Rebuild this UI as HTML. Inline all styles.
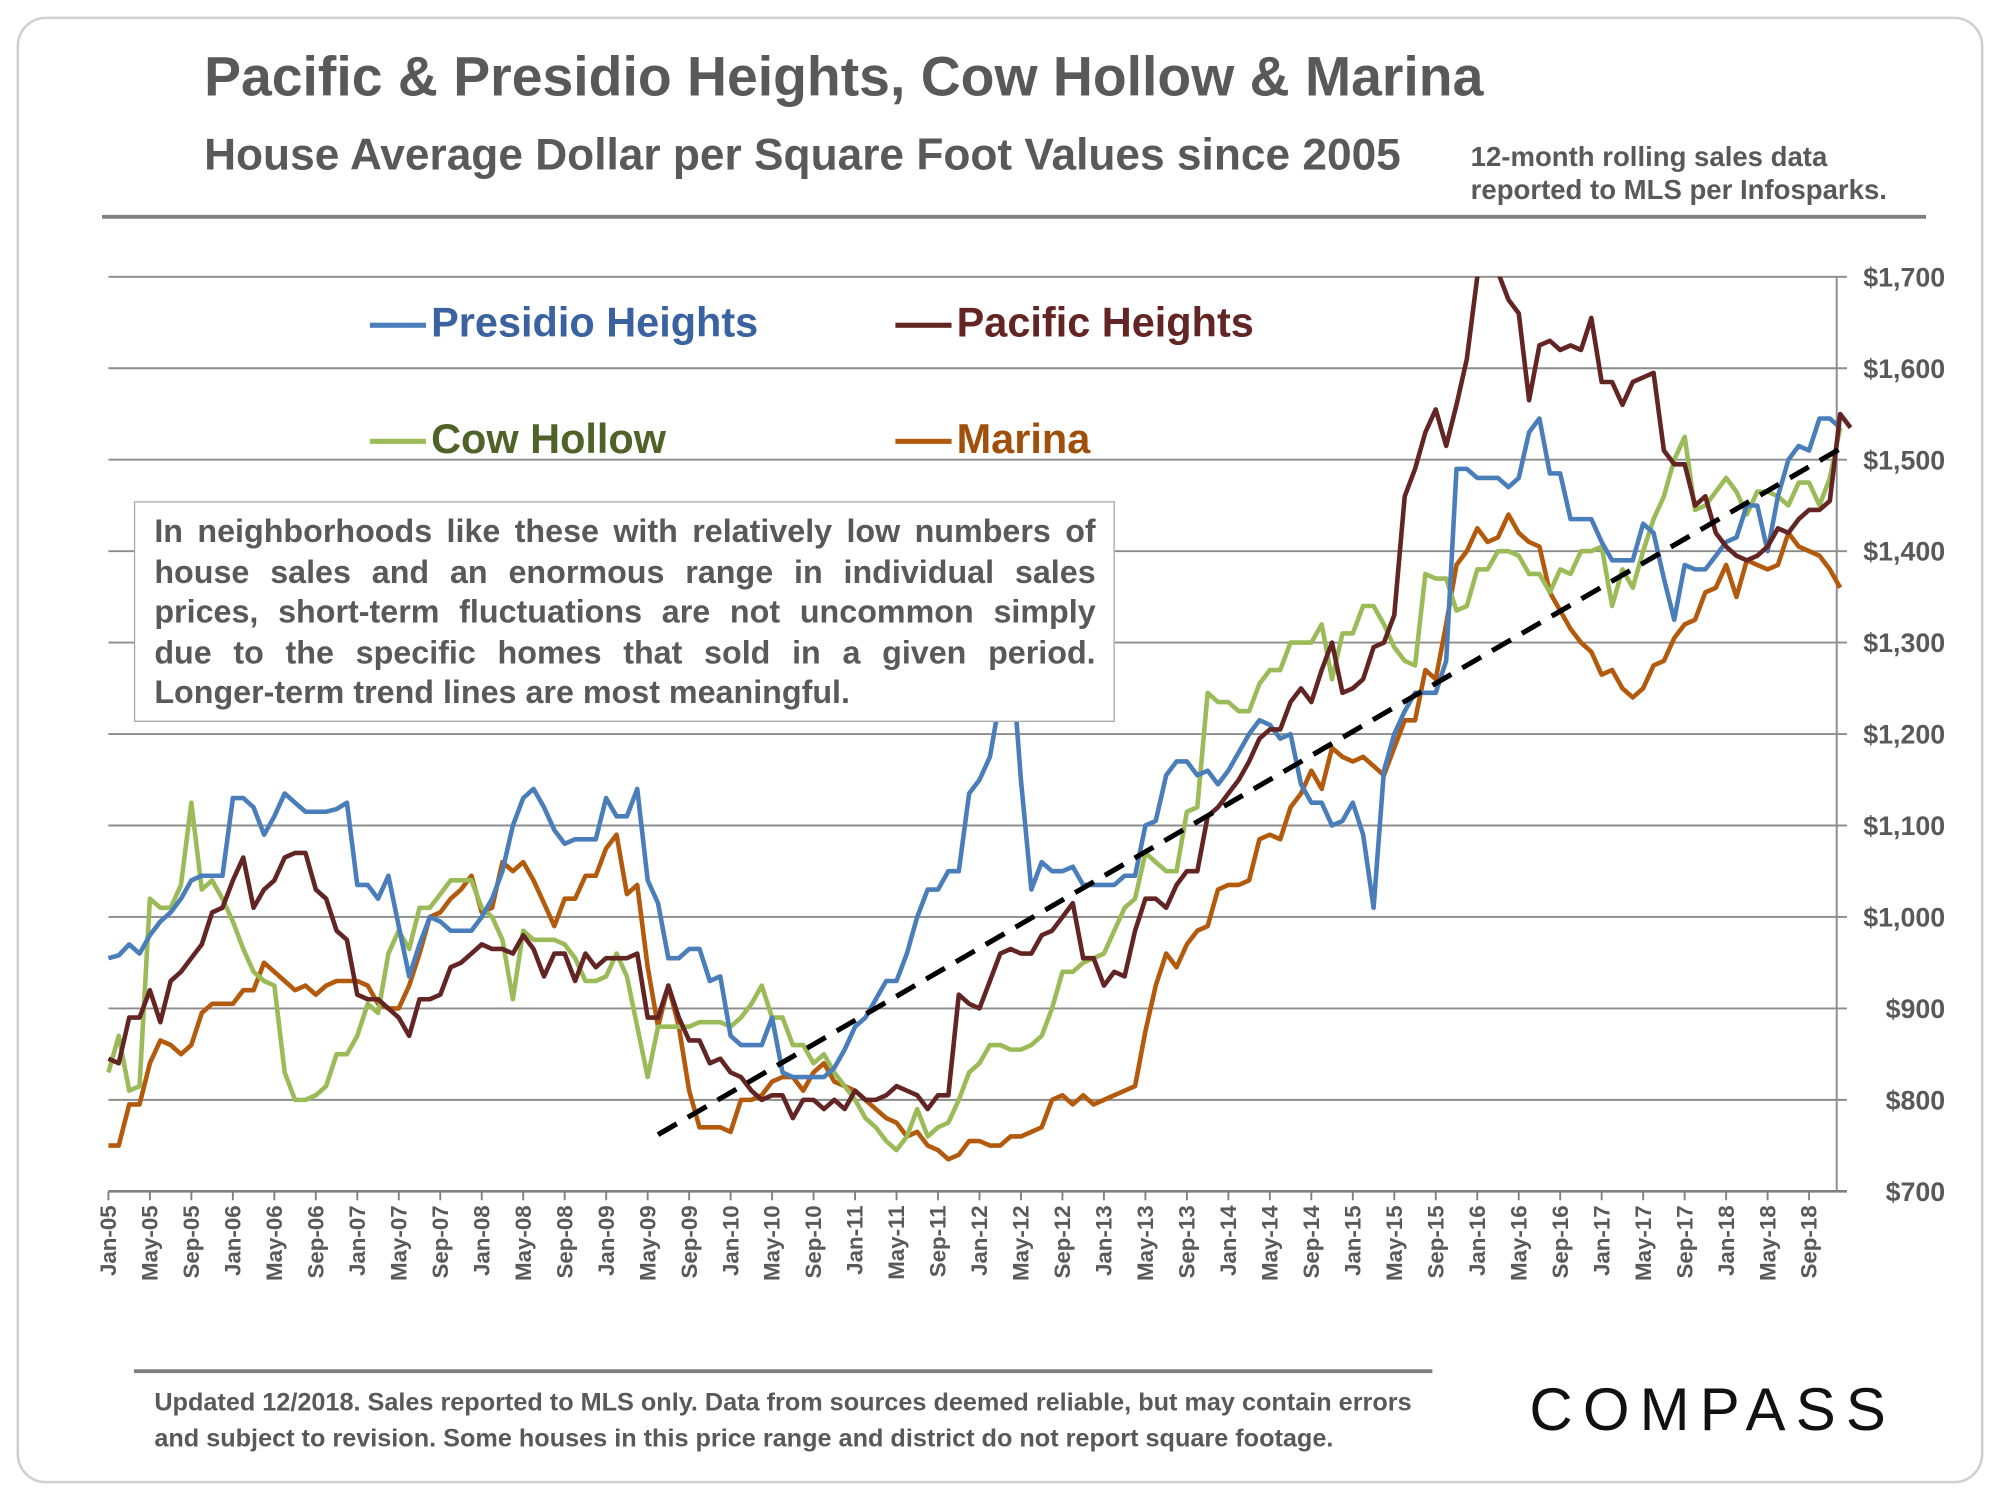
<!DOCTYPE html>
<html><head><meta charset="utf-8">
<style>
html,body{margin:0;padding:0;background:#fff;}
body{width:2000px;height:1500px;overflow:hidden;font-family:"Liberation Sans",Arial,sans-serif;}
#wrap{position:absolute;left:0;top:0;width:1568px;height:1176px;transform:scale(1.27551);transform-origin:0 0;}
.t{position:absolute;font-weight:bold;color:#595959;white-space:nowrap;}
#note-box{position:absolute;left:105px;top:393px;width:738px;height:141px;padding:8px 14px 22px 15px;border:1.5px solid #a6a6a6;background:#fff;font-weight:bold;font-size:25.3px;line-height:31.5px;color:#595959;text-align:justify;text-align-last:justify;}
#note-box .last{text-align-last:left;display:block;}
</style></head>
<body>
<div id="wrap">
<svg id="chart" width="1568" height="1176" viewBox="0 0 1568 1176" style="position:absolute;left:0;top:0">
  <defs><clipPath id="plotclip"><rect x="80" y="217" width="1380" height="730"/></clipPath></defs>
  <rect x="14" y="14" width="1540" height="1148" rx="22" fill="none" stroke="#d0d0d0" stroke-width="2"/>
  <line x1="80" y1="170" x2="1510" y2="170" stroke="#808080" stroke-width="3"/>
  <line x1="105" y1="1075" x2="1123" y2="1075" stroke="#808080" stroke-width="3"/>
  <g id="grid"></g>
  <g id="series" clip-path="url(#plotclip)"></g>
</svg>
<div class="t" style="left:160px;top:37px;font-size:43.4px;">Pacific &amp; Presidio Heights, Cow Hollow &amp; Marina</div>
<div class="t" style="left:160px;top:103px;font-size:34.7px;">House Average Dollar per Square Foot Values since 2005</div>
<div class="t" style="left:1153px;top:110px;font-size:21.6px;line-height:26px;">12-month rolling sales data<br>reported to MLS per Infosparks.</div>
<div class="t" style="left:290px;top:235px;font-size:32.5px;color:#3b62a0;"><span style="display:inline-block;width:44px;height:4px;background:#4a7ebb;vertical-align:middle;margin-right:4px"></span>Presidio Heights</div>
<div class="t" style="left:702px;top:235px;font-size:32.5px;color:#632523;"><span style="display:inline-block;width:44px;height:4px;background:#632523;vertical-align:middle;margin-right:4px"></span>Pacific Heights</div>
<div class="t" style="left:290px;top:326px;font-size:32.5px;color:#4f6228;"><span style="display:inline-block;width:44px;height:4px;background:#9bbb59;vertical-align:middle;margin-right:4px"></span>Cow Hollow</div>
<div class="t" style="left:702px;top:326px;font-size:32.5px;color:#a0500a;"><span style="display:inline-block;width:44px;height:4px;background:#b35a0c;vertical-align:middle;margin-right:4px"></span>Marina</div>
<div id="note-box">In neighborhoods like these with relatively low numbers of house sales and an enormous range in individual sales prices, short-term fluctuations are not uncommon simply due to the specific homes that sold in a given period. <span class="last">Longer-term trend lines are most meaningful.</span></div>
<div class="t" style="left:121px;top:1086px;font-size:19.8px;line-height:28px;">Updated 12/2018. Sales reported to MLS only. Data from sources deemed reliable, but may contain errors<br>and subject to revision. Some houses in this price range and district do not report square footage.</div>
<div class="t" style="left:1199px;top:1077px;font-size:47px;color:#111;letter-spacing:8px;font-weight:normal;">COMPASS</div>
</div>
<script>
const presidio=[955,958,970,960,980,995,1005,1020,1040,1045,1045,1045,1130,1130,1120,1090,1110,1135,1125,1115,1115,1115,1118,1125,1035,1035,1020,1045,990,935,970,1000,995,985,985,985,1000,1020,1050,1100,1130,1140,1120,1095,1080,1085,1085,1085,1130,1110,1110,1140,1040,1015,955,955,965,965,930,935,870,860,860,860,890,830,825,825,825,825,835,855,880,890,910,930,930,960,1000,1030,1030,1050,1050,1135,1150,1175,1240,1300,1150,1030,1060,1050,1050,1055,1035,1035,1035,1035,1045,1045,1100,1105,1155,1170,1170,1155,1160,1145,1160,1180,1200,1215,1210,1195,1200,1145,1125,1125,1100,1105,1125,1090,1010,1160,1200,1225,1245,1245,1245,1280,1490,1490,1480,1480,1480,1470,1480,1530,1545,1485,1485,1435,1435,1435,1410,1390,1390,1390,1430,1420,1370,1325,1385,1380,1380,1395,1410,1415,1450,1450,1400,1460,1500,1515,1510,1545,1545,1535];
const pacific=[845,840,890,890,920,885,930,940,955,970,1005,1010,1040,1065,1010,1030,1040,1065,1070,1070,1030,1020,985,975,915,910,910,900,890,870,910,910,915,945,950,960,970,965,965,960,980,965,935,960,960,930,960,945,955,955,955,960,890,890,925,890,865,865,840,845,830,825,810,800,805,805,780,800,800,790,800,790,810,800,800,805,815,810,805,790,805,805,915,905,900,930,960,965,960,960,980,985,1000,1015,955,955,925,940,935,985,1020,1020,1010,1035,1050,1050,1110,1120,1135,1150,1170,1195,1205,1205,1235,1250,1235,1270,1300,1245,1250,1260,1295,1300,1330,1460,1490,1530,1555,1515,1560,1610,1700,1720,1705,1675,1660,1565,1625,1630,1620,1625,1620,1655,1585,1585,1560,1585,1590,1595,1510,1495,1495,1450,1460,1420,1405,1395,1390,1395,1405,1425,1420,1435,1445,1445,1455,1550,1535];
const cowHollow=[830,870,810,815,1020,1010,1010,1035,1125,1030,1040,1020,995,965,940,930,925,830,800,800,805,815,850,850,870,905,895,960,985,965,1010,1010,1025,1040,1040,1040,1010,1000,975,910,985,975,975,975,970,955,930,930,935,960,935,880,825,880,880,880,880,885,885,885,880,890,905,925,890,890,860,860,840,850,830,815,800,780,770,755,745,760,790,760,770,775,800,830,840,860,860,855,855,860,870,900,940,940,950,955,960,985,1010,1020,1070,1060,1050,1050,1115,1120,1245,1235,1235,1225,1225,1255,1270,1270,1300,1300,1300,1320,1260,1310,1310,1340,1340,1320,1295,1280,1275,1375,1370,1370,1335,1340,1380,1380,1400,1400,1395,1375,1375,1355,1380,1375,1400,1400,1405,1340,1380,1360,1400,1435,1460,1500,1525,1445,1450,1465,1480,1465,1440,1465,1465,1460,1450,1475,1475,1450,1480,1535];
const marina=[750,750,795,795,840,865,860,850,860,895,905,905,905,920,920,950,940,930,920,925,915,925,930,930,930,925,905,900,900,925,960,1000,1005,1020,1030,1045,1005,1010,1060,1050,1060,1040,1015,990,1020,1020,1045,1045,1075,1090,1025,1035,945,880,925,880,810,770,770,770,765,800,800,805,820,825,825,810,830,840,820,815,810,800,790,780,775,760,765,750,745,735,740,755,755,750,750,760,760,765,770,800,805,795,805,795,800,805,810,815,875,925,960,945,970,985,990,1030,1035,1035,1040,1085,1090,1085,1120,1135,1160,1140,1185,1175,1170,1175,1165,1155,1185,1215,1215,1270,1260,1320,1385,1400,1425,1410,1415,1440,1420,1410,1405,1355,1335,1315,1300,1290,1265,1270,1250,1240,1250,1275,1280,1305,1320,1325,1355,1360,1385,1350,1390,1385,1380,1385,1420,1405,1400,1395,1380,1360];
const trendStartIndex=53, trendStartValue=762, trendEndIndex=167, trendEndValue=1512;
const yTicks=[700,800,900,1000,1100,1200,1300,1400,1500,1600,1700];
const monthNames=["Jan","Feb","Mar","Apr","May","Jun","Jul","Aug","Sep","Oct","Nov","Dec"];

const X0=85, DX=8.13, YBASE=934, YPX=0.717;
function xs(i){return X0+DX*i;}
function ys(v){return YBASE-(v-700)*YPX;}
const NS="http://www.w3.org/2000/svg";
const grid=document.getElementById('grid');
const ser=document.getElementById('series');
function mk(tag,attrs,parent){const e=document.createElementNS(NS,tag);for(const k in attrs)e.setAttribute(k,attrs[k]);parent.appendChild(e);return e;}

yTicks.forEach(v=>{
  const l=mk('line',{x1:85,x2:1448,y1:ys(v),y2:ys(v),stroke:v===700?'#808080':'#8c8c8c','stroke-width':v===700?2:1.5},grid);
  
  
  const t=mk('text',{x:1525,y:ys(v)+7.5,'text-anchor':'end','font-size':21,'font-weight':'bold',fill:'#595959','font-family':'Liberation Sans, Arial, sans-serif'},grid);
  t.textContent='$'+v.toLocaleString('en-US');
  
  
});
const ax=mk('line',{x1:1440,x2:1440,y1:ys(1700),y2:ys(700),stroke:'#8c8c8c','stroke-width':1.5},grid);


for(let i=0;i<=164;i+=4){
  const tk=mk('line',{x1:xs(i),x2:xs(i),y1:934,y2:941,stroke:'#808080','stroke-width':1.5},grid);
  
  
  const lab=monthNames[i%12]+'-'+String(5+Math.floor(i/12)).padStart(2,'0');
  const t=mk('text',{x:0,y:0,'text-anchor':'end','font-size':17.5,'font-weight':'bold',fill:'#595959','font-family':'Liberation Sans, Arial, sans-serif',transform:'translate('+(xs(i)+6)+',945) rotate(-90)'},grid);
  t.textContent=lab;
  
  
}
function line(data,color,name){
  const d=data.map((v,i)=>(i?'L':'M')+xs(i).toFixed(1)+','+ys(v).toFixed(1)).join('');
  const p=mk('path',{d:d,fill:'none',stroke:color,'stroke-width':3.6,'stroke-linejoin':'round'},ser);
  
  
}
line(marina,'#b35a0c','marina-line');
line(cowHollow,'#9bbb59','cow-hollow-line');
line(presidio,'#4a7ebb','presidio-heights-line');
line(pacific,'#632523','pacific-heights-line');
const tr=mk('line',{x1:xs(trendStartIndex),y1:ys(trendStartValue),x2:xs(trendEndIndex),y2:ys(trendEndValue),stroke:'#000','stroke-width':4,'stroke-dasharray':'17,10'},ser);


</script>
</body></html>
